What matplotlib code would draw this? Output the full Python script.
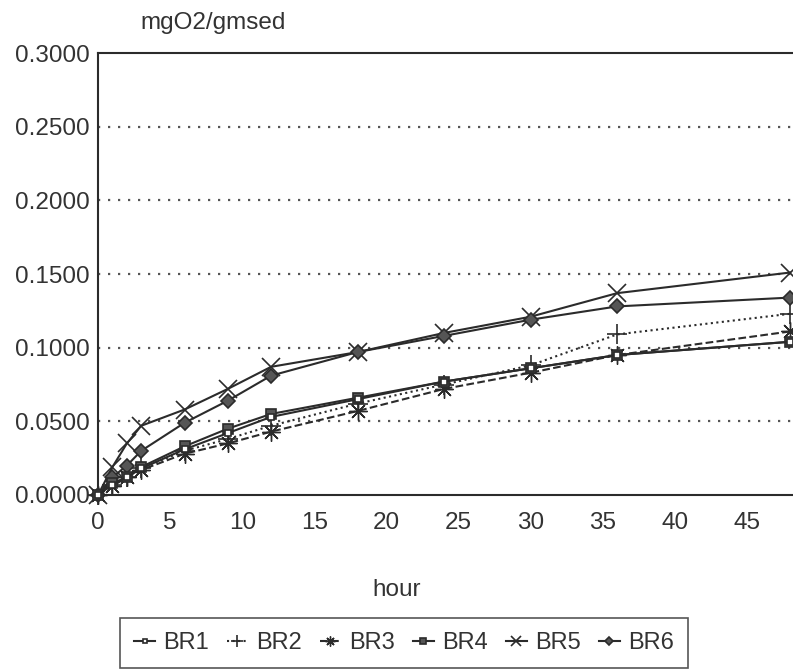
import matplotlib
matplotlib.use('Agg')
from matplotlib import pyplot as plt

hours = [0, 1, 2, 3, 6, 9, 12, 18, 24, 30, 36, 48]

br1 = [0, 0.007, 0.012, 0.018, 0.031, 0.042, 0.053, 0.065, 0.077, 0.086, 0.095, 0.104]
br2 = [0, 0.007, 0.012, 0.018, 0.030, 0.038, 0.047, 0.062, 0.075, 0.088, 0.109, 0.123]
br3 = [0, 0.006, 0.012, 0.017, 0.028, 0.035, 0.043, 0.057, 0.072, 0.083, 0.095, 0.111]
br4 = [0, 0.008, 0.012, 0.019, 0.033, 0.045, 0.055, 0.066, 0.077, 0.086, 0.095, 0.104]
br5 = [0, 0.019, 0.035, 0.047, 0.058, 0.072, 0.087, 0.097, 0.110, 0.121, 0.137, 0.151]
br6 = [0, 0.012, 0.020, 0.030, 0.049, 0.064, 0.081, 0.097, 0.108, 0.119, 0.128, 0.134]

yticks = [0, 0.05, 0.10, 0.15, 0.20, 0.25, 0.30]
xticks = [0, 5, 10, 15, 20, 25, 30, 35, 40, 45]

plt.rcParams['font.family'] = ['Liberation Sans', 'DejaVu Sans']
ink = '#2b2b2b'

fig = plt.figure(figsize=(7.93, 6.72), dpi=100)
ax = fig.add_axes([0.1236, 0.2634, 0.8764, 0.6577])

# one entry per series: values, marker, line style, marker size, face colour
series = [
    ('BR1', br1, 's', '-', 5, 'white'),
    ('BR2', br2, '+', ':', 15, ink),
    ('BR3', br3, (8, 2, 0), '--', 13, ink),
    ('BR4', br4, 's', '-', 7, '#555555'),
    ('BR5', br5, 'x', '-', 13, ink),
    ('BR6', br6, 'D', '-', 7, '#555555'),
]
order = {'BR1': 6, 'BR4': 4}
for name, vals, mk, ls, ms, fc in series:
    ax.plot(hours, vals, linestyle=ls, color=ink, lw=1.5, marker=mk, ms=ms,
            mfc=fc, mec=ink, mew=1.0 if mk == (8, 2, 0) else 1.2, label=name,
            zorder=order.get(name, 3), clip_on=False)

ax.set_xlim(0, 48.2)
ax.set_ylim(0, 0.3)
ax.set_xticks(xticks)
ax.set_yticks(yticks)
ax.set_yticklabels(['%.4f' % v for v in yticks])
ax.tick_params(axis='both', length=0, labelsize=17.5, colors='#333333')
ax.tick_params(axis='x', pad=12)
ax.tick_params(axis='y', pad=6)

for y in yticks[1:-1]:
    ax.axhline(y, color='#555555', lw=1.6, ls=(0, (1, 3.5)), zorder=1)

ax.spines['right'].set_visible(False)
for s in ['left', 'bottom', 'top']:
    ax.spines[s].set_color(ink)
    ax.spines[s].set_linewidth(1.5)

fig.text(213 / 793, 1 - 23 / 672, 'mgO2/gmsed', fontsize=17.5, color='#333333',
         ha='center', va='center')
fig.text(0.5, 1 - 590 / 672, 'hour', fontsize=17.5, color='#333333',
         ha='center', va='center')

leg = fig.legend(loc='center', bbox_to_anchor=(404 / 793, 1 - 643 / 672), ncol=6,
                 fontsize=17, frameon=True, fancybox=False, edgecolor=ink,
                 handlelength=0.9, handletextpad=0.35, columnspacing=0.75,
                 borderpad=0.6, markerscale=0.55)
leg.get_frame().set_linewidth(1.2)
for t in leg.get_texts():
    t.set_color('#333333')

fig.savefig('out.png', dpi=100)
